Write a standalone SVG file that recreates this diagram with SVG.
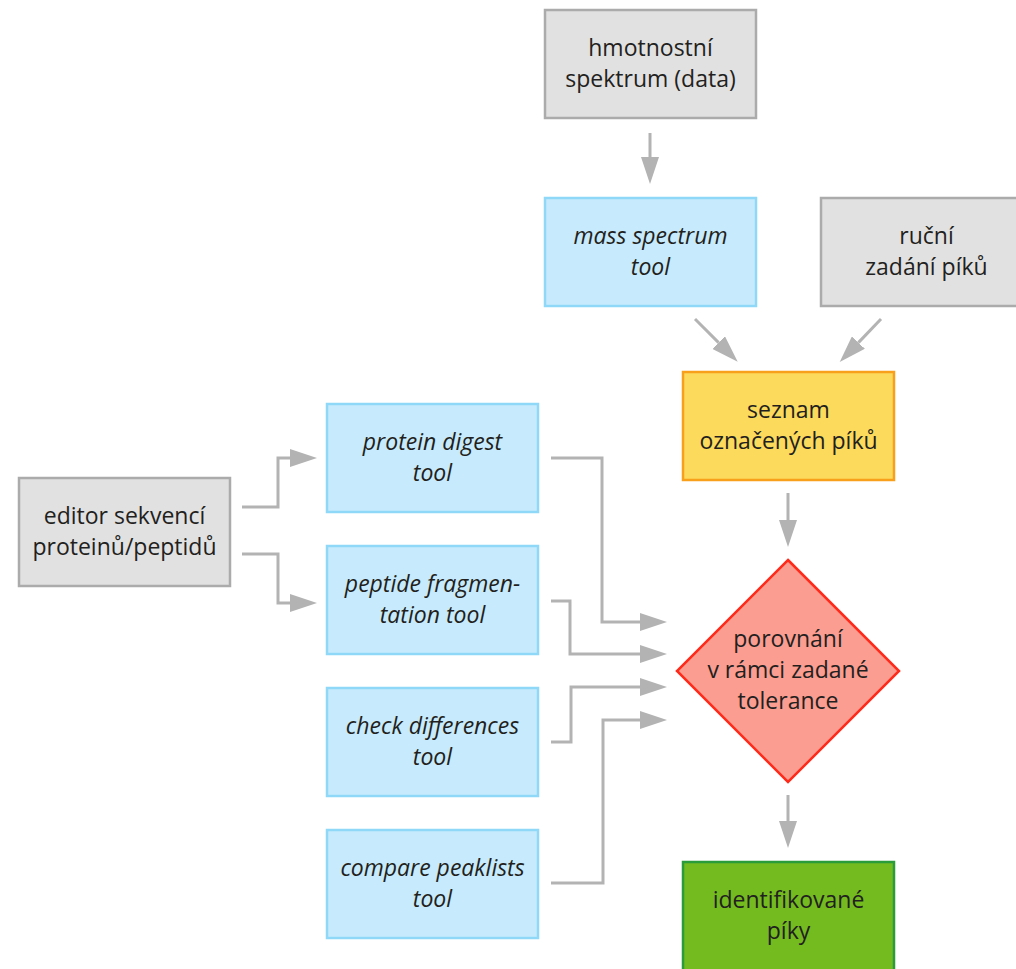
<svg xmlns="http://www.w3.org/2000/svg" width="1016" height="969" viewBox="0 0 1016 969">
<style>
text{font-family:"Open Sans","Noto Sans","Liberation Sans",sans-serif;font-size:23px;fill:#231f20;text-anchor:middle}
.it{font-style:italic}
.gray{fill:#e1e1e1;stroke:#ababab;stroke-width:2.5}
.blue{fill:#c7ebfc;stroke:#90d8f8;stroke-width:2.5}
.yel{fill:#fcda5b;stroke:#f8a01c;stroke-width:2.5}
.dia{fill:#fb9d91;stroke:#ff2a1a;stroke-width:2.5}
.grn{fill:#73bb1f;stroke:#2b9c3a;stroke-width:2.5}
.con{fill:none;stroke:#b3b3b3;stroke-width:3;marker-end:url(#ah)}
</style>
<defs>
<marker id="ah" markerUnits="userSpaceOnUse" markerWidth="27" markerHeight="18" refX="0" refY="9" orient="auto">
<path d="M0,0 L27,9 L0,18 Z" fill="#b3b3b3"/>
</marker>
</defs>
<rect width="1016" height="969" fill="#fff"/>
<g id="connectors">
<path class="con" d="M650,133 V157"/>
<path class="con" d="M695,319 L718.6,342.6"/>
<path class="con" d="M881,319 L858.4,342.6"/>
<path class="con" d="M788,493 V520"/>
<path class="con" d="M788,795 V821"/>
<path class="con" d="M242,507 H278 V458 H290"/>
<path class="con" d="M242,554 H278 V603 H290"/>
<path class="con" d="M551,458 H602 V622 H640"/>
<path class="con" d="M551,601 H570 V654 H640"/>
<path class="con" d="M551,742 H571 V687 H640"/>
<path class="con" d="M551,883 H603 V720 H640"/>
</g>
<g id="n-spectrum-data">
<rect class="gray" x="545" y="10" width="211" height="108"/>
<text x="650.5" y="56">hmotnostní</text>
<text x="650.5" y="87">spektrum (data)</text>
</g>
<g id="n-mass-spectrum-tool">
<rect class="blue" x="545" y="198" width="211" height="108"/>
<text class="it" x="650.5" y="244">mass spectrum</text>
<text class="it" x="650.5" y="275">tool</text>
</g>
<g id="n-manual">
<rect class="gray" x="821" y="198" width="211" height="108"/>
<text x="926.5" y="244">ruční</text>
<text x="926.5" y="275">zadání píků</text>
</g>
<g id="n-peaklist">
<rect class="yel" x="683" y="372" width="211" height="108"/>
<text x="788.5" y="418">seznam</text>
<text x="788.5" y="449">označených píků</text>
</g>
<g id="n-editor">
<rect class="gray" x="19" y="478" width="211" height="108"/>
<text x="124.5" y="524">editor sekvencí</text>
<text x="124.5" y="555">proteinů/peptidů</text>
</g>
<g id="n-protein-digest">
<rect class="blue" x="327" y="404" width="211" height="108"/>
<text class="it" x="432.5" y="450">protein digest</text>
<text class="it" x="432.5" y="481">tool</text>
</g>
<g id="n-peptide-frag">
<rect class="blue" x="327" y="546" width="211" height="108"/>
<text class="it" x="432.5" y="592">peptide fragmen-</text>
<text class="it" x="432.5" y="623">tation tool</text>
</g>
<g id="n-check-diff">
<rect class="blue" x="327" y="688" width="211" height="108"/>
<text class="it" x="432.5" y="734">check differences</text>
<text class="it" x="432.5" y="765">tool</text>
</g>
<g id="n-compare">
<rect class="blue" x="327" y="830" width="211" height="108"/>
<text class="it" x="432.5" y="876">compare peaklists</text>
<text class="it" x="432.5" y="907">tool</text>
</g>
<g id="n-compare-tolerance">
<polygon class="dia" points="788,560 899,671 788,782 677,671"/>
<text x="788" y="647">porovnání</text>
<text x="788" y="678">v rámci zadané</text>
<text x="788" y="709">tolerance</text>
</g>
<g id="n-identified">
<rect class="grn" x="683" y="862" width="211" height="110"/>
<text x="788.5" y="908">identifikované</text>
<text x="788.5" y="939">píky</text>
</g>
</svg>
